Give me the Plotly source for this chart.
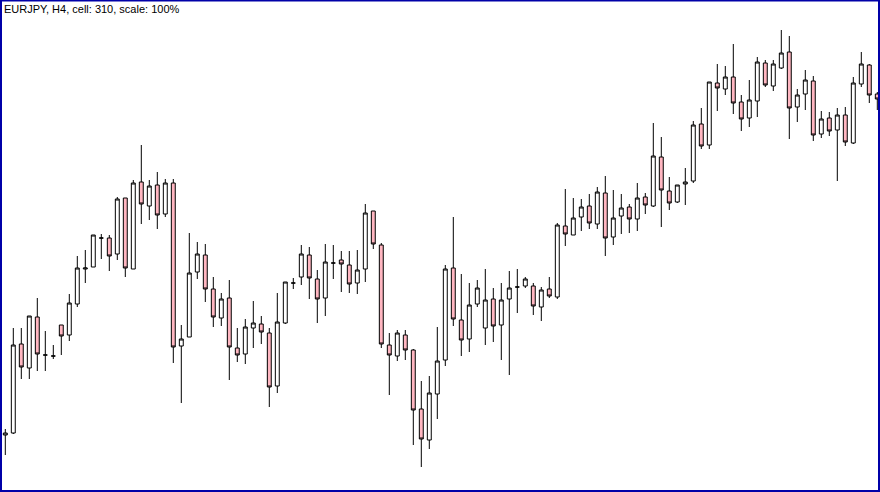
import plotly.graph_objects as go

title_text = "EURJPY, H4, cell: 310, scale: 100%"

bar_index = list(range(110))

open_ = [57, 59, 148, 124, 175, 137, 136, 167, 157, 188,
         223, 225, 254, 254, 238, 294, 223, 310, 286, 307,
         278, 309, 146, 155, 220, 237, 203, 174, 194, 144,
         138, 164, 168, 159, 106, 169, 209, 215, 237, 213,
         194, 229, 232, 227, 209, 223, 281, 247, 147, 136,
         157, 142, 83, 52, 98, 132, 224, 172, 153, 188,
         164, 193, 167, 193, 205, 206, 206, 185, 203, 195,
         266, 257, 275, 286, 268, 299, 255, 276, 285, 273,
         295, 286, 335, 301, 290, 308, 311, 368, 347, 409,
         403, 415, 390, 374, 391, 429, 406, 424, 440, 385,
         398, 411, 358, 374, 362, 377, 349, 408, 427, 398]

high = [63, 164, 164, 176, 194, 161, 147, 167, 198, 236,
        242, 257, 258, 257, 295, 294, 312, 347, 312, 320,
        313, 313, 167, 259, 250, 248, 215, 199, 212, 164,
        173, 191, 176, 164, 199, 210, 214, 247, 245, 222,
        248, 247, 241, 241, 242, 288, 281, 249, 159, 162,
        162, 143, 111, 116, 165, 227, 275, 218, 209, 212,
        223, 204, 209, 221, 223, 215, 209, 205, 215, 269,
        303, 294, 293, 298, 305, 316, 302, 298, 288, 309,
        299, 369, 355, 315, 307, 324, 371, 384, 410, 428,
        426, 448, 397, 412, 435, 432, 432, 462, 456, 403,
        422, 416, 381, 380, 384, 385, 415, 440, 428, 400]

low = [37, 58, 113, 113, 121, 121, 133, 137, 151, 185,
       209, 225, 233, 221, 232, 215, 223, 268, 272, 263,
       275, 129, 89, 155, 213, 190, 165, 166, 112, 130,
       128, 144, 148, 85, 99, 168, 203, 207, 193, 169,
       176, 213, 200, 199, 198, 210, 243, 144, 97, 131,
       132, 47, 25, 43, 73, 126, 166, 136, 140, 185,
       147, 150, 132, 117, 179, 204, 177, 171, 194, 193,
       246, 257, 261, 263, 263, 236, 247, 258, 259, 261,
       278, 285, 265, 282, 289, 287, 309, 343, 343, 381,
       397, 378, 361, 365, 375, 405, 401, 423, 353, 370,
       382, 351, 354, 356, 311, 346, 348, 405, 389, 382]

close = [59, 147, 125, 176, 138, 137, 136, 156, 189, 224,
         224, 257, 254, 236, 293, 224, 309, 288, 306, 277,
         309, 145, 153, 219, 238, 203, 175, 193, 145, 137,
         165, 169, 160, 105, 170, 210, 209, 238, 214, 193,
         230, 229, 228, 208, 222, 279, 248, 148, 137, 159,
         142, 82, 53, 99, 131, 223, 173, 152, 187, 204,
         192, 166, 192, 204, 205, 213, 186, 202, 196, 267,
         258, 274, 285, 269, 300, 254, 274, 284, 273, 294,
         287, 336, 302, 289, 307, 310, 367, 346, 410, 404,
         415, 389, 373, 392, 430, 407, 428, 439, 384, 397,
         412, 357, 373, 361, 377, 350, 409, 428, 397, 393]

fig = go.Figure()
fig.add_trace(go.Candlestick(
    x=bar_index, open=open_, high=high, low=low, close=close,
    increasing=dict(fillcolor="#FFFFFF", line=dict(color="#000000", width=1)),
    decreasing=dict(fillcolor="#FFB6C1", line=dict(color="#000000", width=1)),
    whiskerwidth=0,
    showlegend=False,
    hoverinfo="skip",
))

fig.update_layout(
    width=880, height=492,
    margin=dict(l=0, r=0, t=0, b=0),
    paper_bgcolor="#FFFFFF", plot_bgcolor="#FFFFFF",
    xaxis=dict(range=[-0.6625, 109.3375], visible=False, showgrid=False,
               rangeslider=dict(visible=False), fixedrange=True),
    yaxis=dict(range=[0, 492], visible=False, showgrid=False, fixedrange=True),
    boxgap=0.3,
    annotations=[dict(
        text=title_text, x=0, y=1, xref="paper", yref="paper",
        xanchor="left", yanchor="top", xshift=2, yshift=-1, showarrow=False,
        font=dict(family="Liberation Sans, Arial, sans-serif", size=11, color="#000000"),
    )],
    shapes=[dict(
        type="rect", xref="paper", yref="paper",
        x0=1 / 880, x1=879 / 880, y0=1 / 492, y1=491.5 / 492,
        line=dict(color="#0000A8", width=2), fillcolor="rgba(0,0,0,0)",
    )],
)

fig.write_html(
    "out.html",
    config={"displayModeBar": False},
    post_script="document.body.style.margin='0px';document.body.style.overflow='hidden';",
)
